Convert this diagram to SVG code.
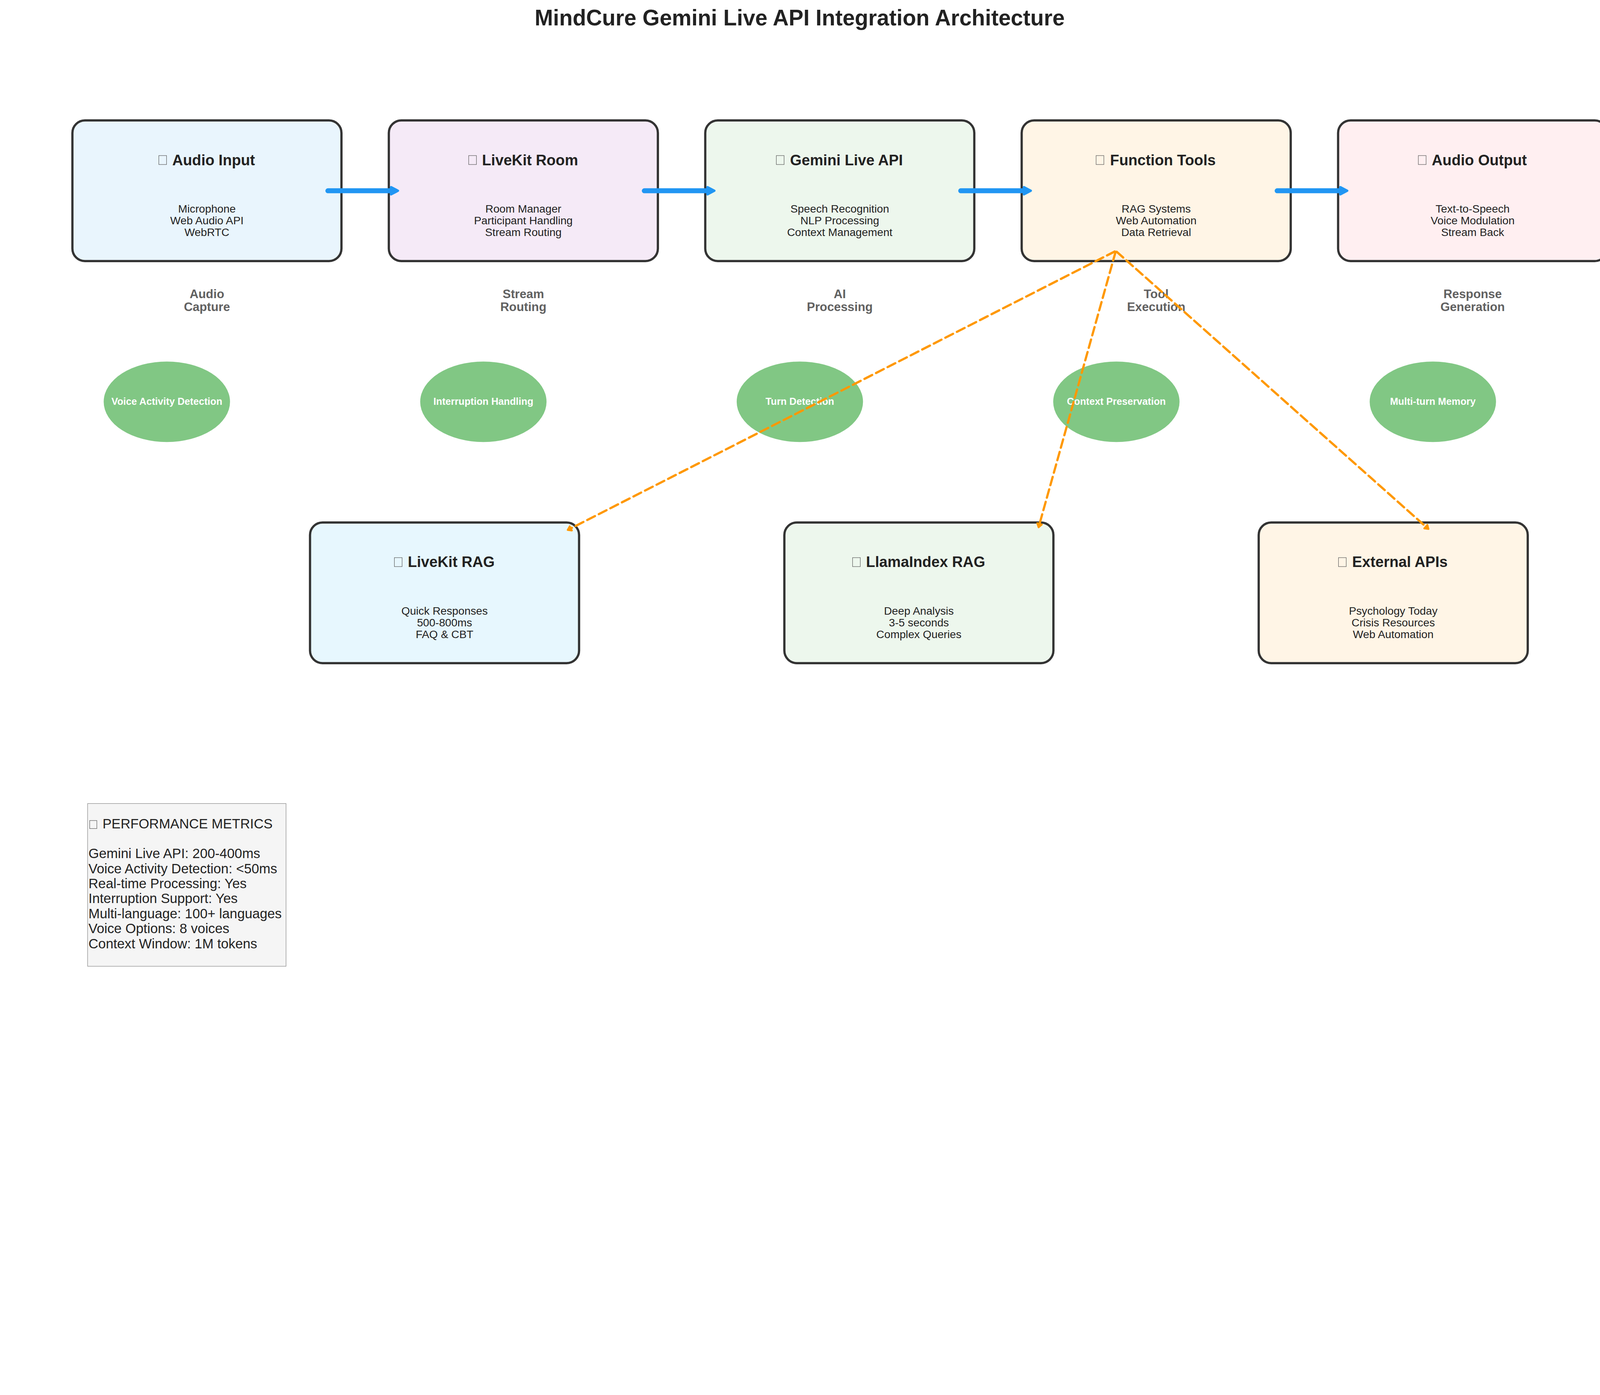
<svg xmlns="http://www.w3.org/2000/svg" width="5370" height="3570" viewBox="0 0 5370 3570">
<defs>
<style>
svg:root{width:100vw;height:auto}
.box{stroke:#333333;stroke-width:7.5}
.ttl{font-family:"Liberation Sans",Arial,sans-serif;font-weight:bold;font-size:50px;fill:#222222;text-anchor:middle}
.sub{font-family:"Liberation Sans",Arial,sans-serif;font-size:37px;fill:#222222;text-anchor:middle}
.stage{font-family:"Liberation Sans",Arial,sans-serif;font-weight:bold;font-size:41px;fill:#616161;text-anchor:middle}
.ell{fill:#81C784}
.etxt{font-family:"Liberation Sans",Arial,sans-serif;font-weight:bold;font-size:33px;fill:#ffffff;text-anchor:middle}
.tofu{fill:none;stroke:#555555;stroke-width:1.5}
.flow{stroke:#2196F3;stroke-width:16.7;stroke-linecap:round;fill:none}
.tool{stroke:#FF9800;stroke-width:7.5;stroke-dasharray:29 14.5;stroke-linecap:round;fill:none}
.met{font-family:"Liberation Sans",Arial,sans-serif;font-size:45.5px;fill:#222222}
.main{font-family:"Liberation Sans",Arial,sans-serif;font-weight:bold;font-size:74px;fill:#222222;text-anchor:middle}
</style>
<marker id="blueHead" markerUnits="userSpaceOnUse" orient="auto" refX="0" refY="0" markerWidth="40" markerHeight="40" style="overflow:visible">
<path d="M0,-12 L23,0 L0,12 Z" fill="#2196F3" stroke="#2196F3" stroke-width="8" stroke-linejoin="round"/>
</marker>
<marker id="orangeHead" markerUnits="userSpaceOnUse" orient="auto" refX="0" refY="0" markerWidth="30" markerHeight="30" style="overflow:visible">
<path d="M0,-8 L12,0 L0,8 Z" fill="#FF9800" stroke="#FF9800" stroke-width="6" stroke-linejoin="round"/>
</marker>
</defs>
<rect x="0" y="0" width="5370" height="3570" fill="#ffffff"/>
<text class="main" x="2684" y="85">MindCure Gemini Live API Integration Architecture</text>

<g id="audio-input">
<rect class="box" x="243" y="404" width="903" height="472" rx="42" fill="#E9F5FD"/>
<rect class="tofu" x="533" y="522" width="26" height="30"/>
<text class="ttl" x="717" y="554">Audio Input</text>
<text class="sub" x="694.5" y="713">Microphone</text>
<text class="sub" x="694.5" y="752.5">Web Audio API</text>
<text class="sub" x="694.5" y="792">WebRTC</text>
<text class="stage" x="694.5" y="1000">Audio</text>
<text class="stage" x="694.5" y="1044">Capture</text>
</g>
<g id="livekit-room">
<rect class="box" x="1305" y="404" width="903" height="472" rx="42" fill="#F5EAF7"/>
<rect class="tofu" x="1573" y="522" width="26" height="30"/>
<text class="ttl" x="1779" y="554">LiveKit Room</text>
<text class="sub" x="1756.5" y="713">Room Manager</text>
<text class="sub" x="1756.5" y="752.5">Participant Handling</text>
<text class="sub" x="1756.5" y="792">Stream Routing</text>
<text class="stage" x="1756.5" y="1000">Stream</text>
<text class="stage" x="1756.5" y="1044">Routing</text>
</g>
<g id="gemini-live-api">
<rect class="box" x="2367" y="404" width="903" height="472" rx="42" fill="#EDF7ED"/>
<rect class="tofu" x="2605.6" y="522" width="26" height="30"/>
<text class="ttl" x="2841" y="554">Gemini Live API</text>
<text class="sub" x="2818.5" y="713">Speech Recognition</text>
<text class="sub" x="2818.5" y="752.5">NLP Processing</text>
<text class="sub" x="2818.5" y="792">Context Management</text>
<text class="stage" x="2818.5" y="1000">AI</text>
<text class="stage" x="2818.5" y="1044">Processing</text>
</g>
<g id="function-tools">
<rect class="box" x="3429" y="404" width="903" height="472" rx="42" fill="#FFF5E6"/>
<rect class="tofu" x="3678.8" y="522" width="26" height="30"/>
<text class="ttl" x="3903" y="554">Function Tools</text>
<text class="sub" x="3880.5" y="713">RAG Systems</text>
<text class="sub" x="3880.5" y="752.5">Web Automation</text>
<text class="sub" x="3880.5" y="792">Data Retrieval</text>
<text class="stage" x="3880.5" y="1000">Tool</text>
<text class="stage" x="3880.5" y="1044">Execution</text>
</g>
<g id="audio-output">
<rect class="box" x="4491" y="404" width="903" height="472" rx="42" fill="#FFEFF1"/>
<rect class="tofu" x="4760.3" y="522" width="26" height="30"/>
<text class="ttl" x="4965" y="554">Audio Output</text>
<text class="sub" x="4942.5" y="713">Text-to-Speech</text>
<text class="sub" x="4942.5" y="752.5">Voice Modulation</text>
<text class="sub" x="4942.5" y="792">Stream Back</text>
<text class="stage" x="4942.5" y="1000">Response</text>
<text class="stage" x="4942.5" y="1044">Generation</text>
</g>

<g id="voice-activity-detection">
<ellipse class="ell" cx="560" cy="1348" rx="212" ry="135"/>
<text class="etxt" x="560" y="1358">Voice Activity Detection</text>
</g>
<g id="interruption-handling">
<ellipse class="ell" cx="1622.3" cy="1348" rx="212" ry="135"/>
<text class="etxt" x="1622.3" y="1358">Interruption Handling</text>
</g>
<g id="turn-detection">
<ellipse class="ell" cx="2684.5" cy="1348" rx="212" ry="135"/>
<text class="etxt" x="2684.5" y="1358">Turn Detection</text>
</g>
<g id="context-preservation">
<ellipse class="ell" cx="3746.8" cy="1348" rx="212" ry="135"/>
<text class="etxt" x="3746.8" y="1358">Context Preservation</text>
</g>
<g id="multi-turn-memory">
<ellipse class="ell" cx="4809" cy="1348" rx="212" ry="135"/>
<text class="etxt" x="4809" y="1358">Multi-turn Memory</text>
</g>

<g id="livekit-rag">
<rect class="box" x="1040.5" y="1753" width="903" height="472" rx="42" fill="#E7F7FE"/>
<rect class="tofu" x="1323.6" y="1871" width="26" height="30"/>
<text class="ttl" x="1514.5" y="1903">LiveKit RAG</text>
<text class="sub" x="1492" y="2062">Quick Responses</text>
<text class="sub" x="1492" y="2101.5">500-800ms</text>
<text class="sub" x="1492" y="2141">FAQ &amp; CBT</text>
</g>
<g id="llamaindex-rag">
<rect class="box" x="2632.5" y="1753" width="903" height="472" rx="42" fill="#EDF7ED"/>
<rect class="tofu" x="2861.4" y="1871" width="26" height="30"/>
<text class="ttl" x="3106.5" y="1903">LlamaIndex RAG</text>
<text class="sub" x="3084" y="2062">Deep Analysis</text>
<text class="sub" x="3084" y="2101.5">3-5 seconds</text>
<text class="sub" x="3084" y="2141">Complex Queries</text>
</g>
<g id="external-apis">
<rect class="box" x="4224.5" y="1753" width="903" height="472" rx="42" fill="#FFF5E6"/>
<rect class="tofu" x="4492.3" y="1871" width="26" height="30"/>
<text class="ttl" x="4698.5" y="1903">External APIs</text>
<text class="sub" x="4676" y="2062">Psychology Today</text>
<text class="sub" x="4676" y="2101.5">Crisis Resources</text>
<text class="sub" x="4676" y="2141">Web Automation</text>
</g>

<g id="performance-metrics">
<rect x="294" y="2696" width="666" height="546" fill="#F5F5F5" stroke="#808080" stroke-width="1.5"/>
<rect class="tofu" x="301" y="2753" width="24" height="27"/>
<text class="met" x="344" y="2779">PERFORMANCE METRICS</text>
<text class="met" x="297" y="2879.3">Gemini Live API: 200-400ms</text>
<text class="met" x="297" y="2929.7">Voice Activity Detection: &lt;50ms</text>
<text class="met" x="297" y="2980.1">Real-time Processing: Yes</text>
<text class="met" x="297" y="3030.5">Interruption Support: Yes</text>
<text class="met" x="297" y="3080.9">Multi-language: 100+ languages</text>
<text class="met" x="297" y="3131.3">Voice Options: 8 voices</text>
<text class="met" x="297" y="3181.7">Context Window: 1M tokens</text>
</g>

<g id="connectors">
<path class="flow" d="M1100.5,640 H1312.5" marker-end="url(#blueHead)"/>
<path class="flow" d="M2162.5,640 H2374.5" marker-end="url(#blueHead)"/>
<path class="flow" d="M3224.5,640 H3436.5" marker-end="url(#blueHead)"/>
<path class="flow" d="M4286.5,640 H4498.5" marker-end="url(#blueHead)"/>
<path class="tool" d="M3741.4,843.8 L1915.8,1772.8" marker-end="url(#orangeHead)"/>
<path class="tool" d="M3743.9,845.9 L3489.0,1757.6" marker-end="url(#orangeHead)"/>
<path class="tool" d="M3748.0,844.7 L4785.4,1767.0" marker-end="url(#orangeHead)"/>
</g>
</svg>
